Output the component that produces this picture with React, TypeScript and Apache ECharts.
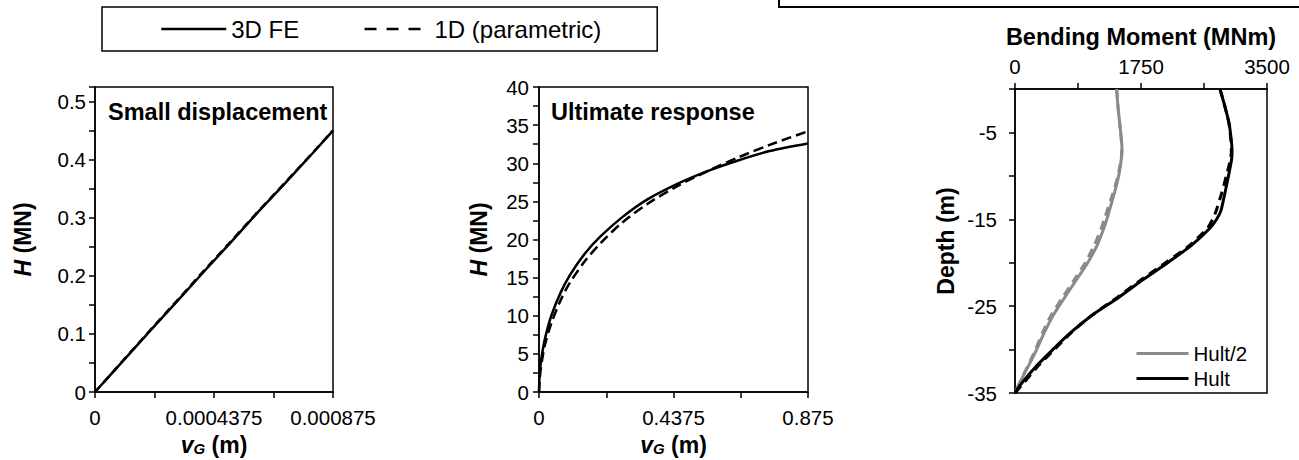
import React, { useEffect, useRef } from 'react';
import * as echarts from 'echarts';

const FONT = "'Liberation Sans', Arial, Helvetica, sans-serif";
const GREY = '#8a8a8a';

// ---- Small displacement: H vs vG ----
const vgSmall = [0, 0.0001, 0.0002, 0.0003, 0.0004, 0.0005, 0.0006, 0.0007, 0.0008, 0.000875];
const hSmallFE = [0, 0.052, 0.104, 0.155, 0.207, 0.258, 0.31, 0.36, 0.411, 0.45];
const hSmall1D = [0, 0.0525, 0.105, 0.1565, 0.2085, 0.2595, 0.311, 0.361, 0.4115, 0.4505];
const smallXLabels = ['0', '0.0004375', '0.000875'];
const smallYLabels = ['0', '0.1', '0.2', '0.3', '0.4', '0.5'];

// ---- Ultimate response: H vs vG ----
const vgUlt = [0, 0.002, 0.005, 0.01, 0.02, 0.04, 0.07, 0.1, 0.15, 0.2, 0.27, 0.35, 0.45, 0.55, 0.65, 0.75, 0.875];
const hUltFE = [0, 2.3, 3.6, 5.0, 7.1, 10.0, 13.0, 15.3, 18.2, 20.4, 22.9, 25.2, 27.3, 29.0, 30.4, 31.6, 32.6];
const hUlt1D = [0, 1.5, 2.8, 4.2, 6.3, 9.0, 12.0, 14.3, 17.2, 19.5, 22.2, 24.6, 27.0, 29.0, 30.8, 32.4, 34.2];
const ultXLabels = ['0', '0.4375', '0.875'];
const ultYLabels = ['0', '5', '10', '15', '20', '25', '30', '35', '40'];

// ---- Bending moment profiles along the pile ----
const depth = [0, -2, -4, -6, -7, -8, -10, -12, -14, -15, -16, -18, -20, -22, -24, -26, -28, -30, -32, -34, -35];
const mHalfFE = [1412, 1430, 1455, 1480, 1486, 1478, 1440, 1380, 1310, 1275, 1235, 1140, 1010, 850, 690, 535, 410, 300, 180, 55, 0];
const mHalf1D = [1412, 1430, 1455, 1478, 1483, 1474, 1430, 1360, 1280, 1240, 1200, 1100, 975, 820, 660, 505, 385, 285, 170, 55, 0];
const mFullFE = [2847, 2915, 2975, 3005, 3014, 3010, 2965, 2915, 2860, 2800, 2710, 2450, 2120, 1770, 1440, 1080, 780, 525, 285, 80, 0];
const mFull1D = [2847, 2915, 2972, 3000, 3005, 2995, 2935, 2870, 2795, 2745, 2675, 2425, 2090, 1745, 1420, 1075, 790, 545, 310, 105, 0];
const momentLabels = ['0', '1750', '3500'];
const depthLabels = ['-35', '-25', '-15', '-5'];

const zip = (xs: number[], ys: number[]) => xs.map((x, i) => [x, ys[i]]);
const everyOther = (labels: string[]) => (_v: number, idx: number) =>
  idx % 2 === 0 && labels[idx / 2] !== undefined ? labels[idx / 2] : '';

const richName = {
  i: { fontFamily: FONT, fontStyle: 'italic', fontWeight: 'bold', fontSize: 23, color: '#000' },
  s: { fontFamily: FONT, fontStyle: 'italic', fontWeight: 'bold', fontSize: 15, color: '#000', padding: [8, 0, 0, 0] },
  n: { fontFamily: FONT, fontWeight: 'bold', fontSize: 23, color: '#000' },
};

const axisCommon = {
  type: 'value',
  splitLine: { show: false },
  axisLine: { show: true, onZero: false, lineStyle: { color: '#000', width: 1.5 } },
  axisTick: { show: true, inside: false, length: 6, lineStyle: { color: '#000', width: 1.5 } },
  axisLabel: { color: '#000', fontSize: 20.5, fontFamily: FONT },
};

// legend entries draw only the line, no marker
const hideMarker = { opacity: 0 };

export default function App() {
  const ref = useRef<HTMLDivElement>(null);

  useEffect(() => {
    if (!ref.current) return;
    const chart = echarts.init(ref.current, null, { renderer: 'svg' });

    const grids = [
      { left: 95, top: 87, width: 238, height: 305 },
      { left: 539, top: 87, width: 269, height: 305 },
      { left: 1015, top: 89, width: 252, height: 304 },
    ].map((g) => ({
      ...g,
      outerBoundsMode: 'none',
      containLabel: false,
      show: true,
      borderColor: '#000',
      borderWidth: 1.5,
      backgroundColor: 'transparent',
    }));

    const option: any = {
      animation: false,
      backgroundColor: '#fff',
      textStyle: { fontFamily: FONT, color: '#000' },
      title: [
        { text: 'Small displacement', left: 108, top: 100, padding: 0, textStyle: { fontFamily: FONT, fontWeight: 'bold', fontSize: 23.5, color: '#000' } },
        { text: 'Ultimate response', left: 551, top: 100, padding: 0, textStyle: { fontFamily: FONT, fontWeight: 'bold', fontSize: 23.5, color: '#000' } },
      ],
      legend: [
        {
          left: 102,
          top: 7,
          orient: 'horizontal',
          padding: [10, 56, 10, 58],
          itemGap: 64,
          itemWidth: 65,
          itemHeight: 14,
          borderColor: '#000',
          borderWidth: 1.5,
          selectedMode: false,
          textStyle: { fontFamily: FONT, fontSize: 24, color: '#000' },
          data: [
            { name: '3D FE', itemStyle: hideMarker, lineStyle: { width: 2.5, type: 'solid', color: '#000' } },
            { name: '1D (parametric)', itemStyle: hideMarker, lineStyle: { width: 2.5, type: [12, 10], color: '#000' } },
          ],
        },
        {
          left: 1135,
          top: 343,
          orient: 'vertical',
          itemGap: 4,
          itemWidth: 52,
          itemHeight: 14,
          padding: 0,
          selectedMode: false,
          textStyle: { fontFamily: FONT, fontSize: 20.5, color: '#000' },
          data: [
            { name: 'Hult/2', itemStyle: hideMarker, lineStyle: { width: 3, color: GREY } },
            { name: 'Hult', itemStyle: hideMarker, lineStyle: { width: 3, color: '#000' } },
          ],
        },
      ],
      grid: grids,
      xAxis: [
        {
          ...axisCommon,
          gridIndex: 0,
          min: 0,
          max: 0.000875,
          interval: 0.00021875,
          axisLabel: { ...axisCommon.axisLabel, margin: 15, formatter: everyOther(smallXLabels) },
          name: '{i|v}{s|G}{n| (m)}',
          nameLocation: 'middle',
          nameGap: 41,
          nameTextStyle: { rich: richName },
        },
        {
          ...axisCommon,
          gridIndex: 1,
          min: 0,
          max: 0.875,
          interval: 0.21875,
          axisLabel: { ...axisCommon.axisLabel, margin: 15, formatter: everyOther(ultXLabels) },
          name: '{i|v}{s|G}{n| (m)}',
          nameLocation: 'middle',
          nameGap: 41,
          nameTextStyle: { rich: richName },
        },
        {
          ...axisCommon,
          gridIndex: 2,
          position: 'top',
          min: 0,
          max: 3500,
          interval: 875,
          axisLabel: { ...axisCommon.axisLabel, margin: 12, formatter: everyOther(momentLabels) },
          name: 'Bending Moment (MNm)',
          nameLocation: 'middle',
          nameGap: 40,
          nameTextStyle: { fontFamily: FONT, fontWeight: 'bold', fontSize: 23.5, color: '#000' },
        },
      ],
      yAxis: [
        {
          ...axisCommon,
          gridIndex: 0,
          min: 0,
          max: 0.525,
          interval: 0.05,
          axisLabel: { ...axisCommon.axisLabel, margin: 9, formatter: everyOther(smallYLabels) },
          name: '{i|H}{n| (MN)}',
          nameLocation: 'middle',
          nameGap: 61,
          nameTextStyle: { rich: richName },
        },
        {
          ...axisCommon,
          gridIndex: 1,
          min: 0,
          max: 40,
          interval: 2.5,
          axisLabel: { ...axisCommon.axisLabel, margin: 10, formatter: everyOther(ultYLabels) },
          name: '{i|H}{n| (MN)}',
          nameLocation: 'middle',
          nameGap: 49,
          nameTextStyle: { rich: richName },
        },
        {
          ...axisCommon,
          gridIndex: 2,
          min: -35,
          max: 0,
          interval: 5,
          axisLabel: { ...axisCommon.axisLabel, margin: 18, formatter: everyOther(depthLabels) },
          name: 'Depth (m)',
          nameLocation: 'middle',
          nameGap: 58,
          nameTextStyle: { fontFamily: FONT, fontWeight: 'bold', fontSize: 23, color: '#000' },
        },
      ],
      graphic: [
        {
          type: 'rect',
          shape: { x: 779, y: -40, width: 560, height: 47 },
          style: { fill: 'none', stroke: '#000', lineWidth: 2 },
          silent: true,
        },
      ],
      series: [
        {
          type: 'line', name: '3D FE', xAxisIndex: 0, yAxisIndex: 0, symbol: 'none',
          data: zip(vgSmall, hSmallFE),
          lineStyle: { color: '#000', width: 2.5 }, itemStyle: { color: '#000' },
        },
        {
          type: 'line', name: '1D (parametric)', xAxisIndex: 0, yAxisIndex: 0, symbol: 'none',
          data: zip(vgSmall, hSmall1D),
          lineStyle: { color: '#000', width: 2.5, type: [8, 5] }, itemStyle: { color: '#000' },
        },
        {
          type: 'line', name: '3D FE', xAxisIndex: 1, yAxisIndex: 1, symbol: 'none', smooth: 0.3,
          data: zip(vgUlt, hUltFE),
          lineStyle: { color: '#000', width: 2.5 }, itemStyle: { color: '#000' },
        },
        {
          type: 'line', name: '1D (parametric)', xAxisIndex: 1, yAxisIndex: 1, symbol: 'none', smooth: 0.3,
          data: zip(vgUlt, hUlt1D),
          lineStyle: { color: '#000', width: 2.5, type: [10, 5] }, itemStyle: { color: '#000' },
        },
        {
          type: 'line', name: 'Hult/2', xAxisIndex: 2, yAxisIndex: 2, symbol: 'none', smooth: 0.25,
          data: zip(mHalfFE, depth),
          lineStyle: { color: GREY, width: 3 }, itemStyle: { color: GREY },
        },
        {
          type: 'line', name: 'Hult/2 (1D)', xAxisIndex: 2, yAxisIndex: 2, symbol: 'none', smooth: 0.25,
          data: zip(mHalf1D, depth),
          lineStyle: { color: GREY, width: 3, type: [9, 6] }, itemStyle: { color: GREY },
        },
        {
          type: 'line', name: 'Hult', xAxisIndex: 2, yAxisIndex: 2, symbol: 'none', smooth: 0.25,
          data: zip(mFullFE, depth),
          lineStyle: { color: '#000', width: 3 }, itemStyle: { color: '#000' },
        },
        {
          type: 'line', name: 'Hult (1D)', xAxisIndex: 2, yAxisIndex: 2, symbol: 'none', smooth: 0.25,
          data: zip(mFull1D, depth),
          lineStyle: { color: '#000', width: 3, type: [9, 6] }, itemStyle: { color: '#000' },
        },
      ],
    };

    chart.setOption(option);
    return () => chart.dispose();
  }, []);

  return (
    <div
      ref={ref}
      style={{ position: 'absolute', left: 0, top: 0, width: 1299, height: 460, background: '#fff' }}
    />
  );
}
